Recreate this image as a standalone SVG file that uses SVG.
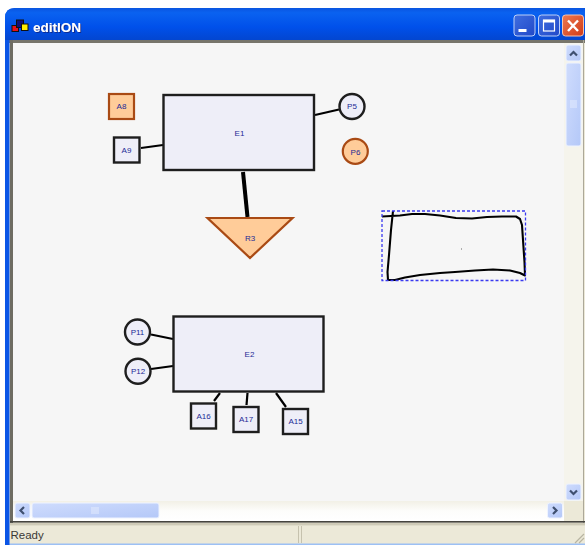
<svg xmlns="http://www.w3.org/2000/svg" width="585" height="545" viewBox="0 0 585 545">
<style>
.lbl{font-family:"Liberation Sans",Arial,sans-serif;font-size:8px;fill:#1c2a96;text-anchor:middle}
.n{fill:#eeeef8;stroke:#1e1e1e;stroke-width:2.4}
.o{fill:#ffcc99;stroke:#a94a14;stroke-width:2.2}
.c{stroke:#000;stroke-width:2.2;fill:none}
.btn{fill:url(#sb);stroke:#eef3ff;stroke-width:1}
.arw{fill:none;stroke:#3f5070;stroke-width:2.2}
.grip{stroke:#eef3ff;stroke-width:.8}
</style>
<defs>
<linearGradient id="tb" x1="0" y1="0" x2="0" y2="1"><stop offset="0" stop-color="#0a55e0"/><stop offset=".15" stop-color="#0a62f0"/><stop offset=".6" stop-color="#0050ea"/><stop offset="1" stop-color="#0346d0"/></linearGradient>
<linearGradient id="sb" x1="0" y1="0" x2="1" y2="1"><stop offset="0" stop-color="#cfdcfd"/><stop offset="1" stop-color="#b4c8f8"/></linearGradient>
<linearGradient id="tr" x1="0" y1="0" x2="0" y2="1"><stop offset="0" stop-color="#f2f0e6"/><stop offset=".5" stop-color="#fdfdfb"/><stop offset="1" stop-color="#fff"/></linearGradient>
<linearGradient id="bb" x1="0" y1="0" x2="1" y2="1"><stop offset="0" stop-color="#3f6ee0"/><stop offset="1" stop-color="#2148c8"/></linearGradient>
<linearGradient id="br" x1="0" y1="0" x2="1" y2="1"><stop offset="0" stop-color="#ee7a50"/><stop offset="1" stop-color="#cf3a18"/></linearGradient>
<filter id="sh" x="-10%" y="-20%" width="120%" height="150%"><feDropShadow dx="1" dy="1" stdDeviation=".4" flood-color="#0a2a90"/></filter>
</defs>
<rect width="585" height="545" fill="#fff"/>
<g id="window">
<path d="M5 545V18Q5 8 15 8H585V545Z" fill="#0a55e6"/>
<path d="M5 40V18Q5 8 15 8H585V40Z" fill="url(#tb)"/>
<rect x="9" y="40" width="576" height="505" fill="#ece9d8"/>
<rect x="9" y="40" width="576" height="3" fill="#77756b"/>
<rect x="10" y="40" width="3" height="483" fill="#6e6c62"/>
<rect x="583" y="40" width="1" height="483" fill="#aca899"/>
<rect x="13" y="43" width="551" height="458" fill="#f6f6f6"/>
<rect x="564" y="43" width="19" height="458" fill="#f5f4ec"/>
<rect x="13" y="501" width="551" height="20" fill="url(#tr)"/>
<rect x="10" y="521" width="575" height="1.6" fill="#45443f"/>
<rect x="10" y="523" width="575" height="2.4" fill="#cfcbb8"/>
<rect x="298" y="526" width="1" height="17" fill="#c6c2ae"/>
<rect x="301" y="526" width="1" height="17" fill="#c6c2ae"/>
<rect x="5" y="543.500" width="580" height="1.500" fill="#9cc0f4"/>
<rect x="5" y="40" width="4.500" height="505" fill="#0a55e6"/>
<path d="M575 543L584 534M579 543L584 538" stroke="#b8b4a2" stroke-width="1.200"/>
</g>
<g id="titlebar">
<rect x="12" y="25.500" width="6.500" height="6" fill="#e8101a" stroke="#111" stroke-width="1"/>
<rect x="16.500" y="20" width="7" height="7.500" fill="#10107a" stroke="#111" stroke-width="1"/>
<rect x="21.500" y="24" width="6.500" height="6.500" fill="#ffee00" stroke="#111" stroke-width="1"/>
<text x="33" y="31.500" font-family="'Liberation Sans',Arial,sans-serif" font-size="13.500" font-weight="700" fill="#fff" filter="url(#sh)">editION</text>
<rect x="514" y="15" width="21" height="21" rx="3" fill="url(#bb)" stroke="#bcd0f8"/>
<rect x="518.500" y="29" width="8" height="3" fill="#fff"/>
<rect x="538.500" y="15" width="21" height="21" rx="3" fill="url(#bb)" stroke="#bcd0f8"/>
<rect x="543.500" y="20" width="11" height="11" fill="none" stroke="#fff" stroke-width="1.200"/>
<rect x="543.500" y="20" width="11" height="2.500" fill="#fff"/>
<rect x="562.500" y="15" width="21" height="21" rx="3" fill="url(#br)" stroke="#f4c4b0"/>
<path d="M568 20.500L578 31M578 20.500L568 31" stroke="#fff" stroke-width="2.400"/>
</g>
<g id="scrollbars">
<rect class="btn" x="566" y="45" width="15" height="16" rx="2"/>
<path class="arw" d="M570 55.500L573.500 52L577 55.500"/>
<rect class="btn" x="566" y="63" width="15" height="83" rx="2"/>
<path class="grip" d="M570 101H577M570 103H577M570 105H577M570 107H577"/>
<rect class="btn" x="566" y="484" width="15" height="16" rx="2"/>
<path class="arw" d="M570 490.500L573.500 494L577 490.500"/>
<rect class="btn" x="15" y="503" width="15" height="15" rx="2"/>
<path class="arw" d="M24 507L20.500 510.500L24 514"/>
<rect class="btn" x="32" y="503" width="127" height="15" rx="2"/>
<path class="grip" d="M92 507V514M94 507V514M96 507V514M98 507V514"/>
<rect class="btn" x="547.500" y="503" width="15" height="15" rx="2"/>
<path class="arw" d="M553 507L556.500 510.500L553 514"/>
</g>
<text id="status" x="10.500" y="539" font-family="'Liberation Sans',Arial,sans-serif" font-size="11.500" fill="#3a3a36">Ready</text>
<g id="connectors">
<path class="c" d="M141 148L163 145"/>
<path class="c" d="M315 115L339 109.500"/>
<path class="c" style="stroke-width:4" d="M243 172L247.500 217"/>
<path class="c" d="M151 334.500L173 339"/>
<path class="c" d="M151 369L173 366"/>
<path class="c" d="M214 401L220 393"/>
<path class="c" d="M246.500 405L247.500 393"/>
<path class="c" d="M286 407L276 393"/>
</g>
<g id="E1"><rect class="n" x="163.500" y="95" width="150.500" height="75"/><text class="lbl" x="239.500" y="136">E1</text></g>
<g id="A8"><rect class="o" x="109" y="94" width="25" height="25"/><text class="lbl" x="121.500" y="109">A8</text></g>
<g id="A9"><rect class="n" x="114" y="137.500" width="25.500" height="25"/><text class="lbl" x="126.500" y="153">A9</text></g>
<g id="P5"><circle class="n" cx="352" cy="106.500" r="12.500"/><text class="lbl" x="352" y="109">P5</text></g>
<g id="P6"><circle class="o" cx="355.300" cy="151.300" r="12.500"/><text class="lbl" x="355.500" y="154.500">P6</text></g>
<g id="R3"><path class="o" d="M207.500 218H292.500L250 258Z"/><text class="lbl" x="250" y="240.500">R3</text></g>
<g id="E2"><rect class="n" x="173.500" y="316.500" width="150" height="75"/><text class="lbl" x="249.500" y="357">E2</text></g>
<g id="P11"><circle class="n" cx="137.500" cy="332" r="12.500"/><text class="lbl" x="137.500" y="334.500">P11</text></g>
<g id="P12"><circle class="n" cx="138" cy="371.300" r="12.500"/><text class="lbl" x="138" y="374">P12</text></g>
<g id="A16"><rect class="n" x="191" y="403.500" width="25" height="25"/><text class="lbl" x="203.500" y="418.500">A16</text></g>
<g id="A17"><rect class="n" x="233.500" y="407" width="25" height="25"/><text class="lbl" x="246" y="422">A17</text></g>
<g id="A15"><rect class="n" x="283" y="409" width="25" height="25"/><text class="lbl" x="295.500" y="424">A15</text></g>
<g id="sketch">
<path d="M382 216.500L400 215.500L412 214L425 214L440 215.500L456 218L472 218.500L487 217L502 216.500L516 216.500L520 219L522 225L523 240L524.500 262L525 275.500L520 273L510 270.500L493 269.500L475 270.500L455 272L440 273L420 275L405 277.500L395 280L388 280L387.500 272L389 255L391 230L393 211" fill="none" stroke="#000" stroke-width="2.100" stroke-linejoin="round"/>
<rect x="382" y="211" width="143.500" height="69.500" fill="none" stroke="#3a3af0" stroke-width="1.300" stroke-dasharray="3 2"/>
<rect x="461" y="248.500" width="1" height="1" fill="#666"/>
</g>
</svg>
